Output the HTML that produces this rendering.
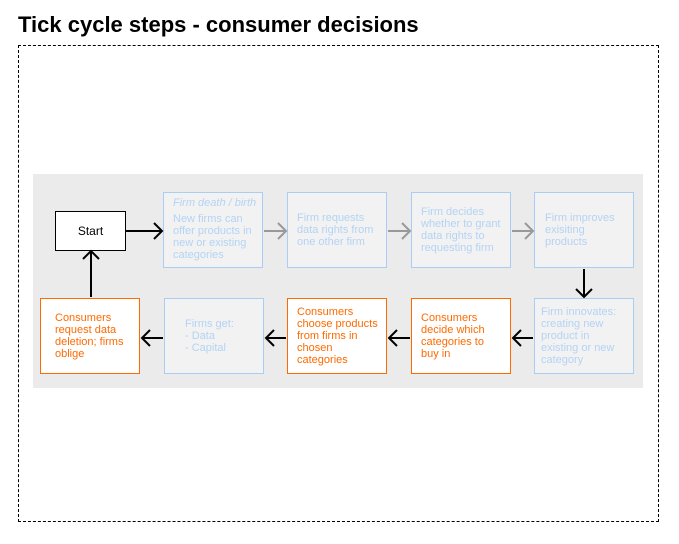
<!DOCTYPE html>
<html><head><meta charset="utf-8"><style>
body{margin:0;width:679px;height:544px;background:#fff;position:relative;font-family:"Liberation Sans",sans-serif;overflow:hidden}
.t{position:absolute;left:18px;top:12px;font-size:22px;font-weight:bold;color:#000}
.frame{position:absolute;left:18px;top:45px;width:639px;height:475px;border:1px dashed #000}
.panel{position:absolute;left:33px;top:174px;width:610px;height:214px;background:#ebebeb}
.b{position:absolute;height:74px;border:1px solid #a9cdf3;background:#f2f2f2;color:#b4d3f5;font-size:11px;line-height:12px;display:flex;align-items:center;padding:0 8px 0 9px;width:81px}
.o{border-color:#ff6a00;background:#fff;color:#ff6a00}
svg{position:absolute;left:0;top:0}
</style></head><body>
<div class="t">Tick cycle steps - consumer decisions</div>
<div class="frame"></div>
<div class="panel"></div>
<div class="b" style="left:55px;top:211px;width:61px;height:38px;border-color:#000;background:#fff;color:#000;font-size:12px;justify-content:center;padding:0 4px">Start</div>
<div class="b" style="left:163px;top:192px;align-items:flex-start;padding-top:4px;height:70px;padding-right:4px;width:85px"><div><i>Firm death / birth</i><div style="margin-top:4px">New firms can offer products in new or existing categories</div></div></div>
<div class="b" style="left:287px;top:192px">Firm requests data rights from one other firm</div>
<div class="b" style="left:411px;top:192px">Firm decides whether to grant data rights to requesting firm</div>
<div class="b" style="left:534px;top:192px;padding-left:10px;width:80px">Firm improves exisiting products</div>
<div class="b" style="left:534px;top:298px;padding-left:6px;width:84px">Firm innovates: creating new product in existing or new category</div>
<div class="b o" style="left:411px;top:298px">Consumers decide which categories to buy in</div>
<div class="b o" style="left:287px;top:298px">Consumers choose products from firms in chosen categories</div>
<div class="b" style="left:164px;top:298px;padding-left:20px;width:70px">Firms get:<br>- Data<br>- Capital</div>
<div class="b o" style="left:40px;top:298px;padding-left:14px;width:76px">Consumers request data deletion; firms oblige</div>
<svg width="679" height="544">
<g fill="none" stroke-width="2">
<g stroke="#000">
<path d="M126 231H162M154 223L162 231L154 239"/>
<path d="M91 297V251M83 259L91 251L99 259"/>
<path d="M584 269V297M576 289L584 297L592 289"/>
<path d="M533 338H513M521 330L513 338L521 346"/>
<path d="M410 338H389M397 330L389 338L397 346"/>
<path d="M286 338H266M274 330L266 338L274 346"/>
<path d="M163 338H142M150 330L142 338L150 346"/>
</g>
<g stroke="#999">
<path d="M264 231H286M278 223L286 231L278 239"/>
<path d="M388 231H410M402 223L410 231L402 239"/>
<path d="M512 231H533M525 223L533 231L525 239"/>
</g>
</g>
</svg>
</body></html>
